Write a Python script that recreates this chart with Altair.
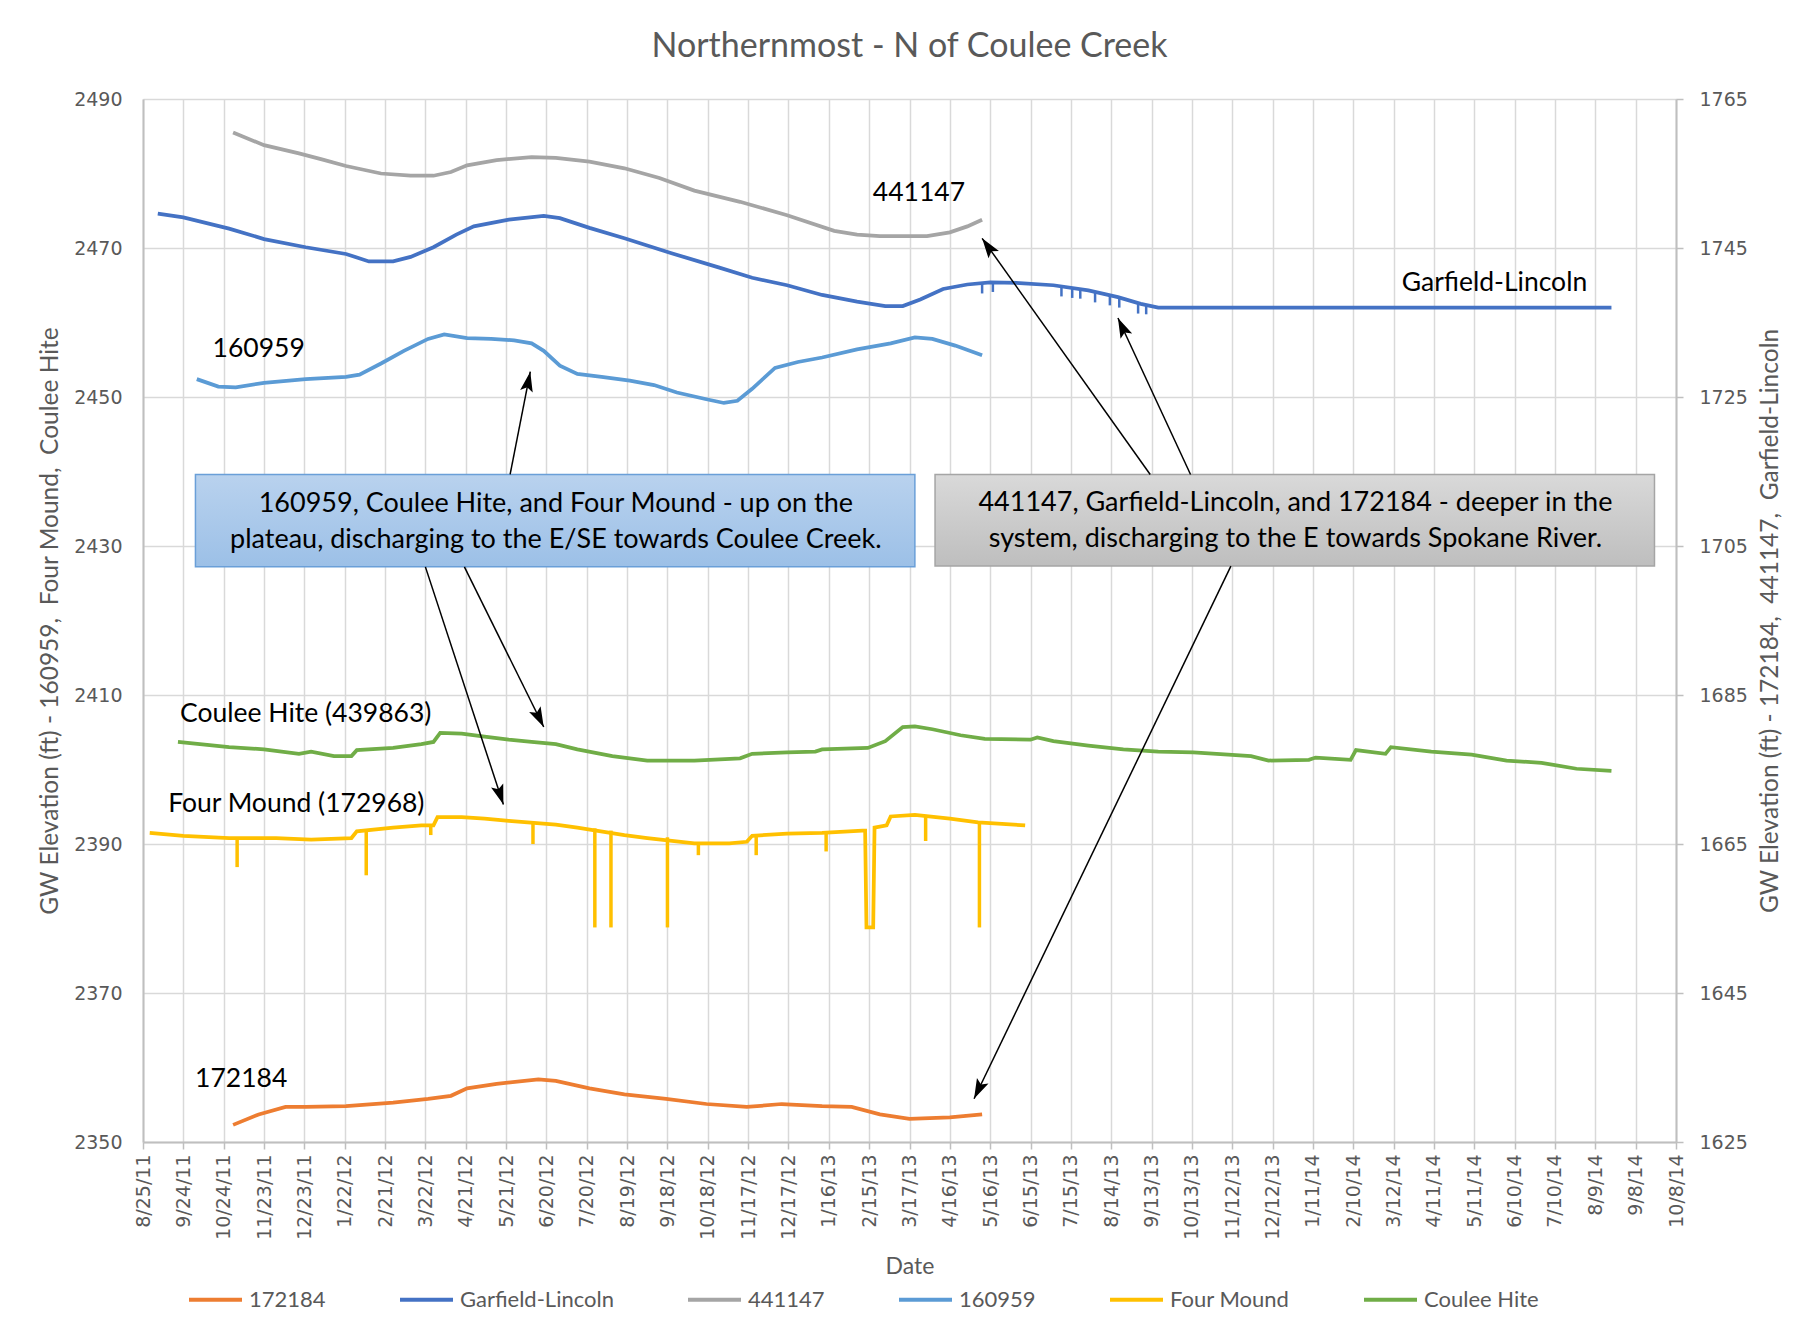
import math
import altair as alt
import pandas as pd

# ---------------- axis ticks ----------------
X_TICKS = ["8/25/11", "9/24/11", "10/24/11", "11/23/11", "12/23/11", "1/22/12", "2/21/12",
           "3/22/12", "4/21/12", "5/21/12", "6/20/12", "7/20/12", "8/19/12", "9/18/12",
           "10/18/12", "11/17/12", "12/17/12", "1/16/13", "2/15/13", "3/17/13", "4/16/13",
           "5/16/13", "6/15/13", "7/15/13", "8/14/13", "9/13/13", "10/13/13", "11/12/13",
           "12/12/13", "1/11/14", "2/10/14", "3/12/14", "4/11/14", "5/11/14", "6/10/14",
           "7/10/14", "8/9/14", "9/8/14", "10/8/14"]
Y_LEFT_TICKS = [2350, 2370, 2390, 2410, 2430, 2450, 2470, 2490]
Y_RIGHT_TICKS = [1625, 1645, 1665, 1685, 1705, 1725, 1745, 1765]

SERIES = ["172184", "Garfield-Lincoln", "441147", "160959", "Four Mound", "Coulee Hite"]
COLORS = ["#ED7D31", "#4472C4", "#A5A5A5", "#5B9BD5", "#FFC000", "#70AD47"]

# ---------------- right-axis series ----------------
S172184_DATES = ["2011-10-31", "2011-11-19", "2011-12-09", "2011-12-24", "2012-01-23", "2012-02-27",
                 "2012-03-24", "2012-04-10", "2012-04-22", "2012-05-14", "2012-06-14", "2012-06-27",
                 "2012-07-22", "2012-08-17", "2012-09-17", "2012-10-17", "2012-11-16", "2012-12-12",
                 "2013-01-11", "2013-02-02", "2013-02-23", "2013-03-17", "2013-04-16", "2013-05-10"]
S172184_VALS = [1627.3, 1628.7, 1629.7, 1629.7, 1629.8, 1630.3, 1630.8, 1631.2, 1632.2, 1632.8,
                1633.4, 1633.2, 1632.2, 1631.4, 1630.8, 1630.1, 1629.7, 1630.1, 1629.8, 1629.7,
                1628.7, 1628.1, 1628.3, 1628.7]

GL_DATES = ["2011-09-05", "2011-09-24", "2011-10-28", "2011-11-23", "2011-12-24", "2012-01-23",
            "2012-02-09", "2012-02-27", "2012-03-11", "2012-03-28", "2012-04-14", "2012-04-27",
            "2012-05-23", "2012-06-18", "2012-06-30", "2012-07-22", "2012-08-17", "2012-09-21",
            "2012-10-26", "2012-11-20", "2012-12-16", "2013-01-11", "2013-02-06", "2013-02-27",
            "2013-03-12", "2013-03-25", "2013-04-11", "2013-04-29", "2013-05-16", "2013-06-07",
            "2013-07-02", "2013-07-28", "2013-08-19", "2013-09-05", "2013-09-18", "2013-12-13",
            "2014-04-22", "2014-08-21"]
GL_VALS = [1749.6, 1749.1, 1747.6, 1746.2, 1745.1, 1744.2, 1743.2, 1743.2, 1743.8, 1745.1,
           1746.8, 1747.9, 1748.8, 1749.3, 1749.0, 1747.7, 1746.3, 1744.3, 1742.4, 1741.0,
           1740.0, 1738.7, 1737.8, 1737.2, 1737.2, 1738.1, 1739.5, 1740.1, 1740.4, 1740.3,
           1740.0, 1739.3, 1738.4, 1737.5, 1737.0, 1737.0, 1737.0, 1737.0]
GL_DIP_DATES = ["2013-05-10", "2013-05-18", "2013-07-08", "2013-07-16", "2013-07-22", "2013-08-02",
                "2013-08-13", "2013-08-20", "2013-09-03", "2013-09-09"]
GL_DIP_TOP = [1740.3, 1740.4, 1739.9, 1739.7, 1739.5, 1739.1, 1738.7, 1738.4, 1737.6, 1737.3]
GL_DIP_BOTTOM = [1738.9, 1739.1, 1738.5, 1738.3, 1738.2, 1737.7, 1737.3, 1737.0, 1736.2, 1736.1]

S441147_DATES = ["2011-10-31", "2011-11-23", "2011-12-19", "2012-01-05", "2012-01-23", "2012-02-18",
                 "2012-03-11", "2012-03-28", "2012-04-10", "2012-04-22", "2012-05-14", "2012-06-09",
                 "2012-06-27", "2012-07-22", "2012-08-17", "2012-09-12", "2012-10-08", "2012-11-11",
                 "2012-12-16", "2013-01-20", "2013-02-06", "2013-02-23", "2013-03-30", "2013-04-16",
                 "2013-04-29", "2013-05-10"]
S441147_VALS = [1760.5, 1758.8, 1757.7, 1756.9, 1756.0, 1755.0, 1754.7, 1754.7, 1755.2, 1756.1,
                1756.8, 1757.2, 1757.1, 1756.6, 1755.7, 1754.4, 1752.7, 1751.2, 1749.4, 1747.3,
                1746.8, 1746.6, 1746.6, 1747.1, 1747.9, 1748.8]

# ---------------- left-axis series ----------------
S160959_DATES = ["2011-10-04", "2011-10-20", "2011-11-02", "2011-11-23", "2011-12-24", "2012-01-23",
                 "2012-02-02", "2012-02-18", "2012-03-06", "2012-03-24", "2012-04-05", "2012-04-22",
                 "2012-05-10", "2012-05-27", "2012-06-09", "2012-06-18", "2012-06-30", "2012-07-13",
                 "2012-07-31", "2012-08-21", "2012-09-08", "2012-09-25", "2012-10-17", "2012-10-30",
                 "2012-11-09", "2012-11-20", "2012-12-07", "2012-12-24", "2013-01-11", "2013-02-06",
                 "2013-03-03", "2013-03-21", "2013-04-03", "2013-04-20", "2013-05-10"]
S160959_VALS = [2452.4, 2451.4, 2451.3, 2451.9, 2452.4, 2452.7, 2453.0, 2454.5, 2456.2, 2457.8,
                2458.4, 2457.9, 2457.8, 2457.6, 2457.2, 2456.2, 2454.2, 2453.1, 2452.7, 2452.2,
                2451.6, 2450.6, 2449.7, 2449.2, 2449.5, 2451.1, 2453.9, 2454.7, 2455.3, 2456.4,
                2457.2, 2458.0, 2457.8, 2456.9, 2455.6]

FM_DATES = ["2011-08-30", "2011-09-24", "2011-10-28", "2011-12-02", "2011-12-28", "2012-01-27",
            "2012-01-31", "2012-02-27", "2012-03-19", "2012-03-28", "2012-03-31", "2012-04-18",
            "2012-05-05", "2012-05-23", "2012-06-27", "2012-07-13", "2012-08-17", "2012-09-03",
            "2012-10-08", "2012-11-03", "2012-11-16", "2012-11-20", "2012-12-16", "2013-01-11",
            "2013-02-10", "2013-02-12", "2013-02-13", "2013-02-18", "2013-02-19", "2013-02-28",
            "2013-03-03", "2013-03-21", "2013-04-16", "2013-05-07", "2013-06-11"]
FM_VALS = [2391.5, 2391.1, 2390.8, 2390.8, 2390.6, 2390.8, 2391.7, 2392.2, 2392.5, 2392.5,
           2393.6, 2393.6, 2393.4, 2393.1, 2392.6, 2392.2, 2391.2, 2390.8, 2390.1, 2390.1,
           2390.3, 2391.1, 2391.4, 2391.5, 2391.8, 2391.8, 2378.8, 2378.8, 2392.2, 2392.5,
           2393.7, 2393.9, 2393.4, 2392.9, 2392.5]
FM_SPIKE_DATES = ["2011-11-03", "2012-02-07", "2012-03-26", "2012-06-10", "2012-07-26", "2012-08-07",
                  "2012-09-18", "2012-10-11", "2012-11-23", "2013-01-14", "2013-03-29", "2013-05-08"]
FM_SPIKE_TOP = [2390.8, 2391.9, 2392.5, 2392.8, 2392.1, 2391.8, 2390.9, 2390.1, 2391.1, 2391.5,
                2393.9, 2392.9]
FM_SPIKE_BOTTOM = [2386.9, 2385.8, 2391.2, 2390.0, 2378.8, 2378.8, 2378.8, 2388.5, 2388.5, 2389.0,
                   2390.4, 2378.8]

CH_DATES = ["2011-09-20", "2011-10-28", "2011-11-23", "2011-12-19", "2011-12-28", "2012-01-14",
            "2012-01-27", "2012-01-31", "2012-02-27", "2012-03-19", "2012-03-28", "2012-04-02",
            "2012-04-18", "2012-05-05", "2012-05-23", "2012-06-09", "2012-06-27", "2012-07-13",
            "2012-08-08", "2012-09-03", "2012-10-08", "2012-11-11", "2012-11-20", "2012-12-16",
            "2013-01-06", "2013-01-11", "2013-02-14", "2013-02-27", "2013-03-12", "2013-03-21",
            "2013-04-03", "2013-04-24", "2013-05-12", "2013-06-15", "2013-06-20", "2013-07-02",
            "2013-07-28", "2013-08-23", "2013-09-18", "2013-10-14", "2013-11-09", "2013-11-26",
            "2013-12-09", "2014-01-08", "2014-01-13", "2014-02-08", "2014-02-12", "2014-03-06",
            "2014-03-10", "2014-04-09", "2014-05-09", "2014-06-04", "2014-06-30", "2014-07-26",
            "2014-08-21"]
CH_VALS = [2403.7, 2403.0, 2402.7, 2402.1, 2402.4, 2401.8, 2401.8, 2402.6, 2402.9, 2403.4,
           2403.7, 2404.9, 2404.8, 2404.4, 2404.0, 2403.7, 2403.4, 2402.7, 2401.8, 2401.2,
           2401.2, 2401.5, 2402.1, 2402.3, 2402.4, 2402.7, 2402.9, 2403.8, 2405.7, 2405.8,
           2405.4, 2404.6, 2404.1, 2404.0, 2404.3, 2403.8, 2403.2, 2402.7, 2402.4, 2402.3,
           2402.0, 2401.8, 2401.2, 2401.3, 2401.6, 2401.3, 2402.6, 2402.1, 2403.0, 2402.4,
           2402.0, 2401.2, 2400.9, 2400.1, 2399.8]

# ---------------- annotations (in left-axis units) ----------------
LABEL_TEXT = ["441147", "Garfield-Lincoln", "160959", "Coulee Hite (439863)",
              "Four Mound (172968)", "172184"]
LABEL_DATE = ["2013-03-24", "2014-05-26", "2011-11-19", "2011-12-24", "2011-12-17", "2011-11-06"]
LABEL_Y = [2477.4, 2465.3, 2456.4, 2407.4, 2395.4, 2358.4]

BLUE_BOX_DATES = ["2011-10-03", "2013-03-21"]
BLUE_BOX_Y = [2439.6, 2427.2]
GRAY_BOX_DATES = ["2013-04-05", "2014-09-22"]
GRAY_BOX_Y = [2439.6, 2427.3]
BOX_TEXT = ["160959, Coulee Hite, and Four Mound - up on the",
            "plateau, discharging to the E/SE towards Coulee Creek.",
            "441147, Garfield-Lincoln, and 172184 - deeper in the",
            "system, discharging to the E towards Spokane River."]
BOX_TEXT_DATE = ["2012-06-27", "2012-06-27", "2013-12-29", "2013-12-29"]
BOX_TEXT_Y = [2435.6, 2430.8, 2435.8, 2430.9]

ARROW_TAIL_DATE = ["2012-05-24", "2012-03-22", "2012-04-20", "2013-09-12", "2013-10-12", "2013-11-11"]
ARROW_TAIL_Y = [2439.6, 2427.2, 2427.2, 2439.6, 2439.6, 2427.3]
ARROW_TIP_DATE = ["2012-06-08", "2012-05-19", "2012-06-18", "2013-05-10", "2013-08-19", "2013-05-04"]
ARROW_TIP_Y = [2453.4, 2395.3, 2405.7, 2471.3, 2460.6, 2355.8]

# ---------------- layout ----------------
W, H = 1533, 1043
GRID = "#D9D9D9"
AXIS_LINE = "#BFBFBF"
TXT = "#595959"
LABEL_FONT = "DejaVu Sans"
TEXT_FONT = "Lato"


def tick_dt(s):
    m, d, y = (int(p) for p in s.split("/"))
    return alt.DateTime(year=2000 + y, month=m, date=d, utc=True)


def to_ts(s):
    m, d, y = (int(p) for p in s.split("/"))
    return pd.Timestamp(year=2000 + y, month=m, day=d)


X_SCALE = alt.Scale(type="utc", domain=[tick_dt(X_TICKS[0]), tick_dt(X_TICKS[-1])], nice=False)
X_AXIS = alt.Axis(values=[tick_dt(t) for t in X_TICKS], format="%-m/%-d/%y", labelAngle=270,
                  labelFont=LABEL_FONT, labelFontSize=19, labelColor=TXT, labelPadding=5,
                  labelOverlap=False, labelFlush=False,
                  tickSize=7, tickColor=AXIS_LINE, tickWidth=1.5,
                  domainColor=AXIS_LINE, domainWidth=2,
                  grid=True, gridColor=GRID, gridWidth=1.5,
                  title="Date", titleFont=TEXT_FONT, titleFontSize=23, titleColor=TXT,
                  titleFontWeight="normal", titlePadding=16)

YL_SCALE = alt.Scale(domain=[Y_LEFT_TICKS[0], Y_LEFT_TICKS[-1]], nice=False, zero=False)
YL_AXIS = alt.Axis(values=Y_LEFT_TICKS, format="d", orient="left", grid=True, gridColor=GRID,
                   gridWidth=1.5, ticks=False, labelPadding=21, labelFont=LABEL_FONT,
                   labelFontSize=19, labelColor=TXT, domainColor=AXIS_LINE, domainWidth=2,
                   title="GW Elevation (ft) - 160959,\u00a0 Four Mound,\u00a0 Coulee Hite",
                   titleFont=TEXT_FONT, titleFontSize=24.5, titleColor=TXT,
                   titleFontWeight="normal", titlePadding=11)

YR_SCALE = alt.Scale(domain=[Y_RIGHT_TICKS[0], Y_RIGHT_TICKS[-1]], nice=False, zero=False)
YR_AXIS = alt.Axis(values=Y_RIGHT_TICKS, format="d", orient="right", grid=False, ticks=True,
                   tickSize=7, tickColor=AXIS_LINE, tickWidth=1.5, labelPadding=16,
                   labelFont=LABEL_FONT, labelFontSize=19, labelColor=TXT,
                   domainColor=AXIS_LINE, domainWidth=2,
                   title="GW Elevation (ft) - 172184,\u00a0 441147,\u00a0 Garfield-Lincoln",
                   titleFont=TEXT_FONT, titleFontSize=24.5, titleColor=TXT,
                   titleFontWeight="normal", titlePadding=11, titleAngle=270,
                   titleBaseline="top")

LEGEND = alt.Legend(orient="none", legendX=44, legendY=1172, direction="horizontal", columns=6,
                    title=None, symbolType="stroke", symbolSize=2809, symbolStrokeWidth=4,
                    labelFont=TEXT_FONT, labelFontSize=22, labelColor=TXT, columnPadding=66,
                    labelOffset=5, labelLimit=400)
COLOR = alt.Color("series:N", scale=alt.Scale(domain=SERIES, range=COLORS), legend=LEGEND)

X = alt.X("date:T", scale=X_SCALE, axis=X_AXIS)
X2 = alt.X2("date2:T")
YL = alt.Y("v:Q", scale=YL_SCALE, axis=YL_AXIS)
YR = alt.Y("v:Q", scale=YR_SCALE, axis=YR_AXIS)
YA = alt.Y("v:Q", scale=YL_SCALE, axis=None)
Y2 = alt.Y2("v2:Q")


def series_df(name, dates, vals):
    return pd.DataFrame({"series": name, "date": dates, "v": vals})


left_df = pd.concat([series_df("160959", S160959_DATES, S160959_VALS),
                     series_df("Four Mound", FM_DATES, FM_VALS),
                     series_df("Coulee Hite", CH_DATES, CH_VALS)], ignore_index=True)
right_df = pd.concat([series_df("172184", S172184_DATES, S172184_VALS),
                      series_df("Garfield-Lincoln", GL_DATES, GL_VALS),
                      series_df("441147", S441147_DATES, S441147_VALS)], ignore_index=True)

fm_spikes = pd.DataFrame({"date": FM_SPIKE_DATES, "v": FM_SPIKE_TOP, "v2": FM_SPIKE_BOTTOM})
gl_dips = pd.DataFrame({"date": GL_DIP_DATES, "v": GL_DIP_TOP, "v2": GL_DIP_BOTTOM})

# --- group 1: left axis series
g1 = alt.layer(
    alt.Chart(left_df).mark_line(strokeWidth=3.75).encode(x=X, y=YL, color=COLOR),
    alt.Chart(fm_spikes).mark_rule(color="#FFC000", strokeWidth=3.5).encode(x=X, y=YL, y2=Y2),
)

# --- group 2: right axis series
g2 = alt.layer(
    alt.Chart(right_df).mark_line(strokeWidth=3.75).encode(x=X, y=YR, color=COLOR),
    alt.Chart(gl_dips).mark_rule(color="#4472C4", strokeWidth=2.5).encode(x=X, y=YR, y2=Y2),
)

# --- group 3: annotations
blue_box = pd.DataFrame({"date": [BLUE_BOX_DATES[0]], "date2": [BLUE_BOX_DATES[1]],
                         "v": [BLUE_BOX_Y[0]], "v2": [BLUE_BOX_Y[1]]})
gray_box = pd.DataFrame({"date": [GRAY_BOX_DATES[0]], "date2": [GRAY_BOX_DATES[1]],
                         "v": [GRAY_BOX_Y[0]], "v2": [GRAY_BOX_Y[1]]})
box_text = pd.DataFrame({"date": BOX_TEXT_DATE, "v": BOX_TEXT_Y, "text": BOX_TEXT})
labels = pd.DataFrame({"date": LABEL_DATE, "v": LABEL_Y, "text": LABEL_TEXT})

px_per_day = W / (to_ts(X_TICKS[-1]) - to_ts(X_TICKS[0])).days
px_per_unit = H / (Y_LEFT_TICKS[-1] - Y_LEFT_TICKS[0])
angles = []
for td, ty, hd, hy in zip(ARROW_TAIL_DATE, ARROW_TAIL_Y, ARROW_TIP_DATE, ARROW_TIP_Y):
    dx = (pd.Timestamp(hd) - pd.Timestamp(td)).days * px_per_day
    dy = -(hy - ty) * px_per_unit
    angles.append(math.degrees(math.atan2(dx, -dy)) % 360)
arrows = pd.DataFrame({"date": ARROW_TAIL_DATE, "v": ARROW_TAIL_Y,
                       "date2": ARROW_TIP_DATE, "v2": ARROW_TIP_Y})
heads = pd.DataFrame({"date": ARROW_TIP_DATE, "v": ARROW_TIP_Y, "angle": angles})

blue_grad = alt.Gradient(gradient="linear", x1=0, y1=0, x2=0, y2=1,
                         stops=[alt.GradientStop(color="#B9D2EE", offset=0),
                                alt.GradientStop(color="#9CC0E7", offset=1)])
gray_grad = alt.Gradient(gradient="linear", x1=0, y1=0, x2=0, y2=1,
                         stops=[alt.GradientStop(color="#D9D9D9", offset=0),
                                alt.GradientStop(color="#BEBEBE", offset=1)])

ARROW_PATH = "M0,0 L-0.32,1 L0,0.8 L0.32,1 Z"

g3 = alt.layer(
    alt.Chart(blue_box).mark_rect(fill=blue_grad, stroke="#6A9FD8", strokeWidth=1.5).encode(
        x=X, x2=X2, y=YA, y2=Y2),
    alt.Chart(gray_box).mark_rect(fill=gray_grad, stroke="#A5A5A5", strokeWidth=1.5).encode(
        x=X, x2=X2, y=YA, y2=Y2),
    alt.Chart(box_text).mark_text(font=TEXT_FONT, fontSize=27, color="black", align="center",
                                  baseline="middle").encode(x=X, y=YA, text="text:N"),
    alt.Chart(labels).mark_text(font=TEXT_FONT, fontSize=26.5, color="black", align="center",
                                baseline="middle").encode(x=X, y=YA, text="text:N"),
    alt.Chart(arrows).mark_rule(color="black", strokeWidth=1.5).encode(x=X, x2=X2, y=YA, y2=Y2),
    alt.Chart(heads).mark_point(shape=ARROW_PATH, filled=True, color="black", opacity=1,
                                size=1600).encode(x=X, y=YA, angle=alt.Angle("angle:Q", scale=None)),
)

chart = alt.layer(g1, g2, g3).resolve_scale(y="independent").properties(
    width=W, height=H,
    autosize=alt.AutoSizeParams(type="none"),
    padding={"left": 135, "top": 91, "right": 134, "bottom": 174},
    title=alt.TitleParams("Northernmost - N of Coulee Creek", font=TEXT_FONT, fontSize=34,
                          color=TXT, fontWeight="normal", anchor="middle", offset=26),
).configure_view(strokeWidth=0)

chart.save("out.html", embed_options={"renderer": "svg", "actions": False})
